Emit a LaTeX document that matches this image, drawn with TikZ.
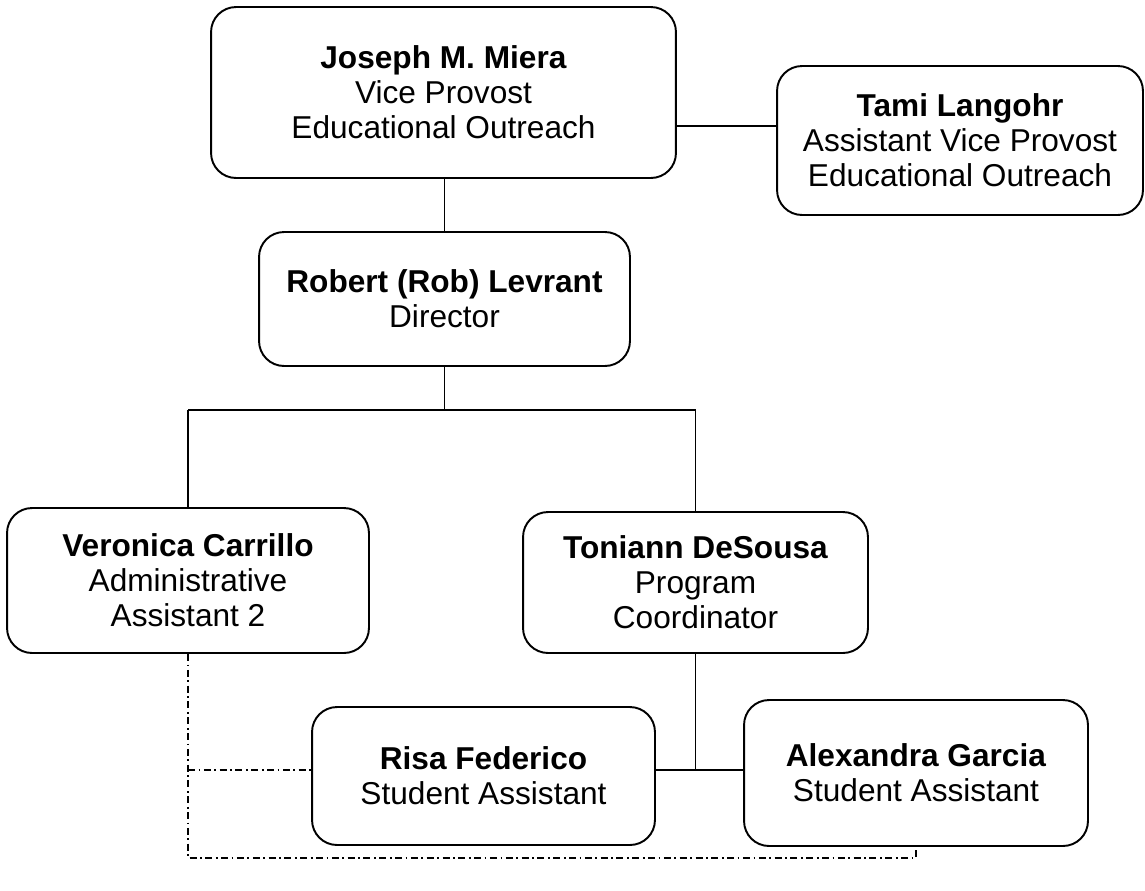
\documentclass[tikz,border=0pt]{standalone}
\usepackage{fontspec}
\setmainfont{Liberation Sans}
\usetikzlibrary{positioning}

\begin{document}
\begin{tikzpicture}[x=0.02cm, y=-0.02cm, thick]
        % Define block styles
        \tikzstyle{person} = [rectangle, draw=black, line width=1.1pt, rounded corners=0.5cm, align=center, font=\fontsize{18}{20}\selectfont, inner sep=2pt]
        \tikzstyle{line} = [draw, line width=0.75pt]
        \tikzstyle{dotline} = [draw, line width=0.75pt, dash pattern=on 4pt off 2pt on 1pt off 2pt]

        \useasboundingbox (0,0) rectangle (1145,890);

        % Define nodes
        \node [person, minimum width=9.3cm, minimum height=3.42cm] (Miera) at (443.5,92.5) {\textbf{Joseph M. Miera}\\Vice Provost\\Educational Outreach};
        \node [person, minimum width=7.32cm, minimum height=2.98cm] (Langohr) at (960,140.5) {\textbf{Tami Langohr}\\Assistant Vice Provost\\Educational Outreach};
        \node [person, minimum width=7.42cm, minimum height=2.68cm] (Levrant) at (444.5,299) {\textbf{Robert (Rob) Levrant}\\Director};
        \node [person, minimum width=7.24cm, minimum height=2.9cm] (Carrillo) at (188,580.5) {\textbf{Veronica Carrillo}\\Administrative\\Assistant 2};
        \node [person, minimum width=6.9cm, minimum height=2.82cm] (DeSousa) at (695.5,582.5) {\textbf{Toniann DeSousa}\\Program\\Coordinator};
        \node [person, minimum width=6.86cm, minimum height=2.76cm] (Federico) at (483.5,776) {\textbf{Risa Federico}\\Student Assistant};
        \node [person, minimum width=6.88cm, minimum height=2.92cm] (Garcia) at (916,773) {\textbf{Alexandra Garcia}\\Student Assistant};

        % Bus levels
        \coordinate (topbus) at (0,126);
        \coordinate (midbus) at (0,410);
        \coordinate (lowbus) at (0,770);
        \coordinate (dotbus) at (0,858);

        % Connect nodes with paths
        \path [line] (Miera.east |- topbus) -- (Langohr.west |- topbus);
        \path [line] (Miera.south -| Levrant.north) -- (Levrant.north);
        \path [line] (Levrant.south) -- (Levrant.south |- midbus);
        \path [line] (Carrillo.north |- midbus) -- (DeSousa.north |- midbus);
        \path [line] (Carrillo.north |- midbus) -- (Carrillo.north);
        \path [line] (DeSousa.north |- midbus) -- (DeSousa.north);
        \path [line] (DeSousa.south) -- (DeSousa.south |- lowbus);
        \path [line] (Federico.east |- lowbus) -- (Garcia.west |- lowbus);
        \path [dotline] (Carrillo.south) -- (Carrillo.south |- dotbus) -- (Garcia.south |- dotbus) -- (Garcia.south);
        \path [dotline] (Carrillo.south |- lowbus) -- (Federico.west |- lowbus);

\end{tikzpicture}
\end{document}
